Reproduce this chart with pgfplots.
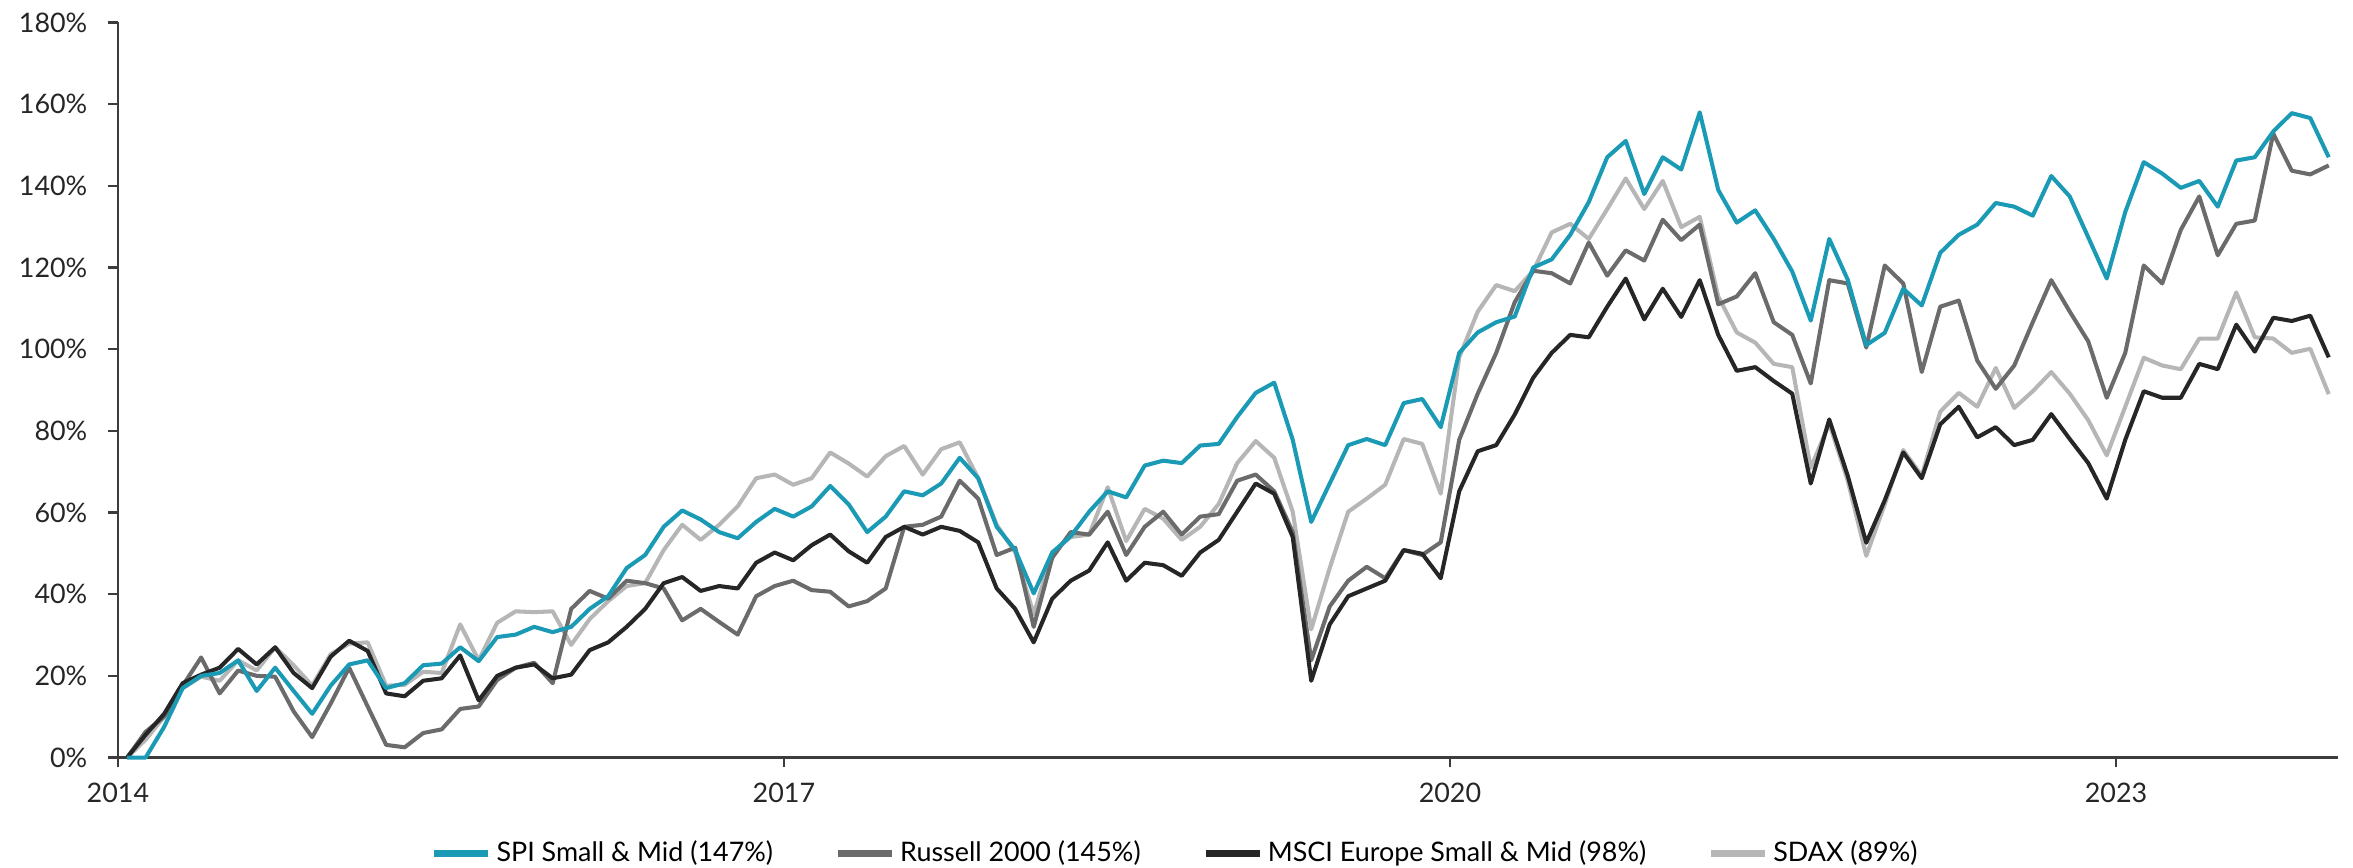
\documentclass[border=0pt]{standalone}
\usepackage{pgfplots}
\usepackage{pgfplotstable}
\pgfplotsset{compat=1.18}
\usepackage{fontspec}
\setmainfont{Lato}

\definecolor{spi}{RGB}{26,154,180}
\definecolor{rus}{RGB}{107,107,107}
\definecolor{msci}{RGB}{38,38,38}
\definecolor{sdax}{RGB}{182,182,182}
\definecolor{axisgray}{RGB}{60,60,60}

% monthly cumulative performance in %, month index from Jan 2014
\pgfplotstableread{
m spi rus msci sdax
0.5 0 0 0 0
1.5 0 6.3 5.6 4.4
2.5 7.5 10 10.7 10
3.5 17 17.6 18.2 17
4.5 20 24.5 20.3 19.8
5.5 20.7 15.7 22 18.8
6.5 23.8 21.3 26.6 23.8
7.5 16.3 20 22.8 21.3
8.5 22 19.8 27 27
9.5 16.3 11.3 20.7 22.6
10.5 10.7 5 17 17.6
11.5 17.6 13.2 24.7 25.3
12.5 22.8 22 28.6 27.9
13.5 23.8 12.5 26.1 28.2
14.5 17 3.1 15.7 17.6
15.5 18.2 2.5 15 17.8
16.5 22.6 6 18.8 21
17.5 23 6.9 19.4 20.7
18.5 27 11.9 25 32.6
19.5 23.6 12.5 14 23.8
20.5 29.5 19 20 33
21.5 30.1 22 22 35.8
22.5 32 23.2 22.8 35.6
23.5 30.7 18.2 19.4 35.8
24.5 32 36.4 20.3 27.6
25.5 36.4 40.8 26.3 33.9
26.5 39.5 38.9 28.2 38.3
27.5 46.4 43.3 32 42
28.5 49.6 42.7 36.4 42.7
29.5 56.5 41.4 42.7 50.8
30.5 60.5 33.6 44.2 57
31.5 58.3 36.4 40.8 53.3
32.5 55.2 33.2 42 57
33.5 53.7 30.1 41.4 61.5
34.5 57.7 39.5 47.7 68.4
35.5 60.9 42 50.2 69.3
36.5 59 43.3 48.3 66.8
37.5 61.5 41 52 68.4
38.5 66.5 40.6 54.6 74.7
39.5 62 37 50.5 72
40.5 55.2 38.3 47.7 68.8
41.5 59 41.4 54 73.8
42.5 65.2 56.5 56.5 76.3
43.5 64.2 57 54.6 69.3
44.5 67.1 59 56.5 75.5
45.5 73.4 67.8 55.5 77.2
46.5 68.4 63.4 52.7 68.4
47.5 56.5 49.6 41.4 57
48.5 50.8 51.4 36.4 50.2
49.5 40.2 32 28.2 35.1
50.5 50.2 48.9 38.9 50.2
51.5 54.2 55.2 43.3 54
52.5 60.2 54.6 45.8 54.6
53.5 65.2 60.2 52.7 66.2
54.5 63.7 49.6 43.3 53
55.5 71.5 56.5 47.7 60.9
56.5 72.7 60.2 47.1 58.5
57.5 72.1 54.6 44.5 53.3
58.5 76.4 59 50.2 56.5
59.5 76.8 59.6 53.3 62.1
60.5 83.4 67.8 60.2 72.1
61.5 89.3 69.3 67.1 77.5
62.5 91.8 65.2 64.6 73.4
63.5 77.8 55.2 54 60.2
64.5 57.7 23.8 18.8 31.4
65.5 67.1 37 32.6 46.4
66.5 76.5 43.3 39.5 60.2
67.5 78 46.7 41.4 63.4
68.5 76.5 43.9 43.3 66.8
69.5 86.8 50.8 50.8 78
70.5 87.8 49.6 49.9 76.8
71.5 80.9 52.7 43.9 64.6
72.5 99.1 77.8 65.2 98
73.5 104.1 89.1 75 109.2
74.5 106.6 99.1 76.5 115.7
75.5 108 111.5 84 114.2
76.5 120 119.2 93 119.2
77.5 122 118.6 99.1 128.6
78.5 128 116.1 103.5 130.7
79.5 136 126.1 102.9 127
80.5 147 118 110.4 134.3
81.5 151 124.2 117.3 141.8
82.5 138 121.7 107.3 134.3
83.5 147 131.7 114.8 141.2
84.5 144 126.7 107.9 129.9
85.5 158 130.5 116.9 132.4
86.5 139 111 103.5 112.9
87.5 131 112.9 94.7 104.1
88.5 134 118.6 95.6 101.6
89.5 127 106.6 92.2 96.4
90.5 119 103.5 89.1 95.6
91.5 107 91.6 67.1 70.9
92.5 127 116.9 82.8 81.8
93.5 117 116.1 69 67.8
94.5 101 100.4 52.6 49.4
95.5 104 120.5 63 62
96.5 114.8 116.1 74.7 75.3
97.5 110.7 94.4 68.4 69
98.5 123.6 110.4 81.6 84.7
99.5 128 111.9 85.9 89.3
100.5 130.5 97.2 78.4 85.9
101.5 135.8 90.3 80.9 95.4
102.5 134.9 96 76.5 85.6
103.5 132.7 106.6 77.8 89.7
104.5 142.4 116.9 84.1 94.4
105.5 137.4 109.2 78 89.1
106.5 127.4 101.9 72.1 82.6
107.5 117.3 88.1 63.4 74
108.5 133.6 99.1 77.8 85.9
109.5 145.8 120.5 89.7 97.9
110.5 143 116.1 88.1 96
111.5 139.5 129.2 88.1 95.1
112.5 141.2 137.4 96.4 102.6
113.5 134.9 123 95.1 102.6
114.5 146.2 130.7 106 113.9
115.5 147 131.5 99.4 102.9
116.5 153.3 152.8 107.7 102.6
117.5 157.8 143.7 106.9 99.1
118.5 156.6 142.8 108.2 100.1
119.5 147 145 98 89
}\perf

\begin{document}
\begin{tikzpicture}
\path[use as bounding box] (-39.3bp,-36.5bp) rectangle (745bp,252.5bp);
\begin{axis}[
  scale only axis,
  width=740bp, height=245bp,
  xmin=0, xmax=120,
  ymin=0, ymax=180,
  axis x line*=bottom,
  axis y line*=left,
  axis line style={axisgray, line width=0.7bp},
  every tick/.style={axisgray, line width=0.7bp},
  tick align=outside,
  major tick length=3.3bp,
  xtick={0,36,72,108},
  xticklabels={2014,2017,2020,2023},
  ytick={0,20,...,180},
  yticklabel={\pgfmathprintnumber{\tick}\%},
  /pgf/number format/assume math mode=true,
  tick label style={font=\fontsize{9}{10}\selectfont, text=msci},
  yticklabel style={inner sep=0pt, xshift=-6.7bp},
  xticklabel style={inner sep=0pt, yshift=-5bp},
  legend columns=-1,
  legend style={draw=none, fill=none, at={(0.4768,-0.1306)}, anchor=center,
    font=\fontsize{9}{10}\selectfont, inner sep=0pt,
    nodes={inner sep=1.5bp},
    /tikz/every even column/.append style={column sep=19bp}},
  legend image code/.code={\draw[#1, line width=2.4bp] (0bp,0bp) -- (18bp,0bp);},
  every axis plot/.append style={line width=1.35bp, line join=round},
  clip=false,
]
\addlegendimage{spi}
\addlegendentry{SPI Small \& Mid (147\%)}
\addlegendimage{rus}
\addlegendentry{Russell 2000 (145\%)}
\addlegendimage{msci}
\addlegendentry{MSCI Europe Small \& Mid (98\%)}
\addlegendimage{sdax}
\addlegendentry{SDAX (89\%)}

\addplot[sdax, forget plot] table[x=m, y=sdax] {\perf};
\addplot[rus, forget plot] table[x=m, y=rus] {\perf};
\addplot[msci, forget plot] table[x=m, y=msci] {\perf};
\addplot[spi, forget plot] table[x=m, y=spi] {\perf};
\end{axis}
\end{tikzpicture}
\end{document}
